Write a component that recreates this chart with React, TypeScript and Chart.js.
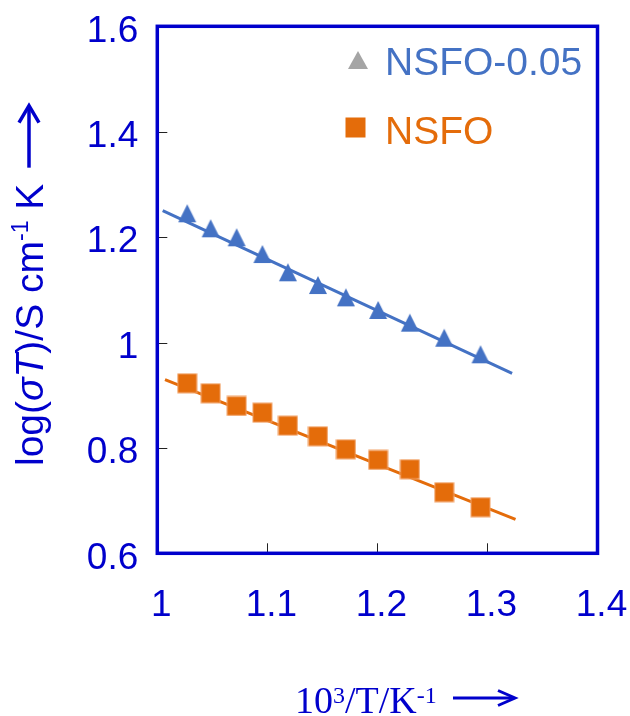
import React, { useEffect, useRef } from 'react';
import { Chart, registerables } from 'chart.js';

Chart.register(...registerables);

// ---- data ----
const invT = [1.0272, 1.0485, 1.0721, 1.0955, 1.1187, 1.146, 1.1714, 1.2007, 1.2295, 1.2607, 1.2937];
const nsfo005 = [1.2452, 1.2167, 1.1996, 1.1679, 1.1332, 1.1091, 1.0857, 1.0617, 1.0376, 1.0091, 0.9776];
const nsfo = [0.9226, 0.9037, 0.8796, 0.8669, 0.8422, 0.8221, 0.7974, 0.7772, 0.7595, 0.7159, 0.6874];
const fitX005 = [1.0049, 1.3224];
const fitY005 = [1.2501, 0.9416];
const fitXnsfo = [1.007, 1.3255];
const fitYnsfo = [0.9294, 0.6645];
const xTicks = [1, 1.1, 1.2, 1.3, 1.4];
const yTicks = [0.6, 0.8, 1, 1.2, 1.4, 1.6];
const seriesNames = ['NSFO-0.05', 'NSFO'];

const AXIS_BLUE = '#0000CC';
const SERIES_BLUE = '#4472C4';
const SERIES_ORANGE = '#E46C0A';
const LEGEND_GRAY = '#A5A5A5';
const SANS = '"Liberation Sans", Arial, Helvetica, sans-serif';
const SERIF = '"Liberation Serif", "Times New Roman", serif';

function makeTriangle(color: string, w: number, h: number) {
  const c = document.createElement('canvas');
  c.width = w + 2;
  c.height = h + 2;
  const g = c.getContext('2d')!;
  g.fillStyle = color;
  g.beginPath();
  g.moveTo(1 + w / 2, 1);
  g.lineTo(1 + w, 1 + h);
  g.lineTo(1, 1 + h);
  g.closePath();
  g.fill();
  return c;
}

function makeSquare(color: string, edge: string, s: number) {
  const c = document.createElement('canvas');
  c.width = s + 2;
  c.height = s + 2;
  const g = c.getContext('2d')!;
  g.fillStyle = color;
  g.fillRect(1, 1, s, s);
  g.strokeStyle = edge;
  g.lineWidth = 1;
  g.strokeRect(1, 1, s, s);
  return c;
}

const fmt = (v: number) => String(Math.round(v * 10) / 10);

function drawArrow(ctx: CanvasRenderingContext2D, x1: number, y1: number, x2: number, y2: number, head: number, half: number, lw: number) {
  const ang = Math.atan2(y2 - y1, x2 - x1);
  ctx.save();
  ctx.lineWidth = lw;
  ctx.lineCap = 'butt';
  ctx.beginPath();
  ctx.moveTo(x1, y1);
  ctx.lineTo(x2 - Math.cos(ang) * 1, y2 - Math.sin(ang) * 1);
  ctx.stroke();
  ctx.lineJoin = 'miter';
  ctx.beginPath();
  const bx = x2 - Math.cos(ang) * head;
  const by = y2 - Math.sin(ang) * head;
  const px = -Math.sin(ang) * half;
  const py = Math.cos(ang) * half;
  ctx.moveTo(bx + px, by + py);
  ctx.lineTo(x2, y2);
  ctx.lineTo(bx - px, by - py);
  ctx.stroke();
  ctx.restore();
}

const decorPlugin = {
  id: 'decor',
  afterDraw(chart: any) {
    const { ctx, chartArea } = chart;
    const xs = chart.scales.x;
    const ys = chart.scales.y;
    const { left, right, top, bottom } = chartArea;
    ctx.save();

    // inner tick marks
    ctx.strokeStyle = '#222';
    ctx.lineWidth = 1;
    yTicks.forEach((v) => {
      const y = Math.round(ys.getPixelForValue(v)) + 0.5;
      ctx.beginPath();
      ctx.moveTo(left, y);
      ctx.lineTo(left + 10, y);
      ctx.stroke();
    });
    xTicks.forEach((v) => {
      const x = Math.round(xs.getPixelForValue(v)) + 0.5;
      ctx.beginPath();
      ctx.moveTo(x, bottom);
      ctx.lineTo(x, bottom - 10);
      ctx.stroke();
    });

    // frame
    ctx.strokeStyle = AXIS_BLUE;
    ctx.lineWidth = 3.5;
    ctx.strokeRect(left, top, right - left, bottom - top);

    // legend
    ctx.drawImage(makeTriangle(LEGEND_GRAY, 20, 18), 347, 50);
    ctx.drawImage(makeSquare(SERIES_ORANGE, SERIES_ORANGE, 19), 345, 117);
    ctx.textBaseline = 'alphabetic';
    ctx.textAlign = 'left';
    ctx.font = `39px ${SANS}`;
    ctx.fillStyle = SERIES_BLUE;
    ctx.fillText(seriesNames[0], 385, 75);
    ctx.fillStyle = SERIES_ORANGE;
    ctx.fillText(seriesNames[1], 385, 144);

    // y title (rotated)
    ctx.save();
    ctx.translate(42.5, 466);
    ctx.rotate(-Math.PI / 2);
    ctx.fillStyle = AXIS_BLUE;
    ctx.strokeStyle = AXIS_BLUE;
    let cx = 0;
    const put = (t: string, font: string, dy = 0) => {
      ctx.font = font;
      ctx.fillText(t, cx, dy);
      cx += ctx.measureText(t).width;
    };
    put('log(', `39px ${SANS}`);
    put('σ', `italic 39px ${SANS}`);
    put('T', `italic 39px ${SANS}`);
    put(')/S cm', `39px ${SANS}`);
    put('-1', `23px ${SANS}`, -15);
    put(' K', `39px ${SANS}`);
    drawArrow(ctx, cx + 16, -13.5, cx + 78, -13.5, 17, 10, 3.5);
    ctx.restore();

    // x title
    ctx.fillStyle = AXIS_BLUE;
    ctx.strokeStyle = AXIS_BLUE;
    let tx = 295;
    const putx = (t: string, font: string, dy = 0) => {
      ctx.font = font;
      ctx.fillText(t, tx, 713 + dy);
      tx += ctx.measureText(t).width;
    };
    putx('10', `38px ${SERIF}`);
    putx('3', `24px ${SERIF}`, -10);
    putx('/T/K', `38px ${SERIF}`);
    putx('-1', `24px ${SERIF}`, -10);
    drawArrow(ctx, 453, 698, 515, 698, 17, 7.5, 3);

    ctx.restore();
  },
};

export default function App() {
  const ref = useRef<HTMLCanvasElement | null>(null);

  useEffect(() => {
    document.body.style.margin = '0';
    const canvas = ref.current!;
    const tri = makeTriangle(SERIES_BLUE, 18, 18);
    const sq = makeSquare(SERIES_ORANGE, '#F2A36A', 19);

    const chart = new Chart(canvas, {
      type: 'scatter',
      data: {
        datasets: [
          {
            label: seriesNames[0],
            data: invT.map((x, i) => ({ x, y: nsfo005[i] })),
            pointStyle: tri as any,
            pointRadius: 10,
            backgroundColor: SERIES_BLUE,
            borderColor: SERIES_BLUE,
            showLine: false,
            order: 0,
          },
          {
            label: seriesNames[1],
            data: invT.map((x, i) => ({ x, y: nsfo[i] })),
            pointStyle: sq as any,
            pointRadius: 10,
            backgroundColor: SERIES_ORANGE,
            borderColor: SERIES_ORANGE,
            showLine: false,
            order: 0,
          },
          {
            label: 'fit-005',
            data: fitX005.map((x, i) => ({ x, y: fitY005[i] })),
            showLine: true,
            pointRadius: 0,
            borderColor: SERIES_BLUE,
            borderWidth: 3,
            order: 1,
          },
          {
            label: 'fit-nsfo',
            data: fitXnsfo.map((x, i) => ({ x, y: fitYnsfo[i] })),
            showLine: true,
            pointRadius: 0,
            borderColor: SERIES_ORANGE,
            borderWidth: 3,
            order: 1,
          },
        ],
      },
      options: {
        animation: false,
        responsive: false,
        devicePixelRatio: 1,
        layout: { padding: { left: 0, top: 26.3, right: 32.5, bottom: 0 } },
        plugins: { legend: { display: false }, tooltip: { enabled: false } },
        scales: {
          x: {
            type: 'linear',
            min: 1,
            max: 1.4,
            afterFit: (s: any) => {
              s.height = 716 - 553.3;
              s.paddingLeft = 0;
              s.paddingRight = 0;
            },
            afterBuildTicks: (s: any) => {
              s.ticks = xTicks.map((v) => ({ value: v }));
            },
            grid: { display: false, drawTicks: false },
            border: { display: false },
            ticks: {
              color: AXIS_BLUE,
              font: { family: SANS, size: 37 },
              padding: 30,
              labelOffset: 4,
              maxRotation: 0,
              autoSkip: false,
              callback: (v: any) => fmt(Number(v)),
            },
          },
          y: {
            type: 'linear',
            min: 0.6,
            max: 1.6,
            afterFit: (s: any) => {
              s.width = 157.3;
              s.paddingTop = 0;
              s.paddingBottom = 0;
            },
            afterBuildTicks: (s: any) => {
              s.ticks = yTicks.map((v) => ({ value: v }));
            },
            grid: { display: false, drawTicks: false },
            border: { display: false },
            ticks: {
              color: AXIS_BLUE,
              font: { family: SANS, size: 37 },
              padding: 19,
              labelOffset: 5,
              autoSkip: false,
              callback: (v: any) => fmt(Number(v)),
            },
          },
        },
      } as any,
      plugins: [decorPlugin],
    });
    return () => chart.destroy();
  }, []);

  return <canvas ref={ref} width={630} height={716} style={{ display: 'block' }} />;
}
